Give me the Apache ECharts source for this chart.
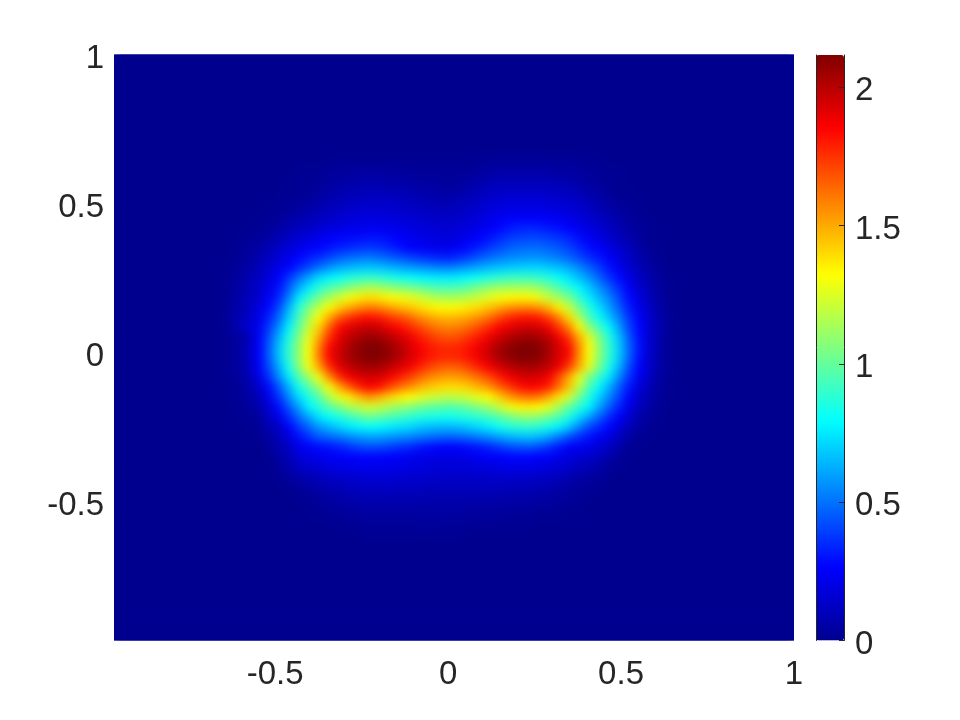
<!DOCTYPE html>
<html>
<head>
<meta charset="utf-8">
<style>html,body{margin:0;padding:0;background:#fff}#c{width:960px;height:720px}</style>
<script src="https://cdn.jsdelivr.net/npm/echarts@6/dist/echarts.min.js"></script>
</head>
<body>
<div id="c"></div>
<script>
const xTicks = [-0.5, 0, 0.5, 1];
const yTicks = [-0.5, 0, 0.5, 1];
const barTicks = [0, 0.5, 1, 1.5, 2];
const axisMin = -0.966;
const axisMax = 1;
const valueMax = 2.116;
const colCount = 68;
const rowCount = 59;
const firstCol = 11;
const firstRow = 10;
const jet = ['#00008f','#0000ff','#0080ff','#00ffff','#80ff80','#ffff00','#ff8000','#ff0000','#800000'];
// values, top row first; every cell outside this block is 0
const zRows = [
[0,0,0,0,0,0,0,0,0,0,0,.01,.01,.01,.01,.01,.01,.01,.01,.01,.01,.01,.01,.01,.01,.02,.02,.02,.02,.02,.02,.02,.02,.02,.02,.02,.01,.01,0,0,0,0,0,0,0],
[0,0,0,0,0,0,0,.01,.01,.01,.02,.03,.03,.03,.03,.03,.03,.03,.02,.02,.02,.02,.02,.02,.02,.03,.04,.05,.05,.05,.05,.05,.05,.04,.04,.03,.02,.02,.01,.01,0,0,0,0,0],
[0,0,0,0,0,0,0,.01,.01,.02,.03,.04,.05,.05,.06,.06,.05,.05,.04,.04,.03,.03,.02,.03,.04,.05,.07,.08,.08,.08,.08,.08,.08,.07,.06,.05,.03,.02,.01,.01,0,0,0,0,0],
[0,0,0,0,0,0,.01,.01,.02,.03,.05,.07,.08,.09,.09,.09,.08,.08,.07,.06,.06,.05,.04,.05,.07,.09,.11,.12,.12,.12,.12,.12,.12,.11,.1,.08,.06,.04,.02,.01,.01,0,0,0,0],
[0,0,0,0,0,.01,.01,.02,.03,.05,.07,.09,.1,.11,.12,.12,.12,.11,.1,.09,.08,.07,.07,.08,.1,.12,.14,.15,.16,.16,.16,.16,.15,.14,.13,.11,.09,.06,.03,.02,.01,.01,0,0,0],
[0,0,0,0,.01,.01,.02,.04,.06,.08,.1,.12,.14,.15,.15,.15,.15,.14,.13,.12,.11,.1,.1,.11,.13,.15,.18,.19,.2,.2,.2,.2,.19,.18,.17,.15,.12,.09,.06,.04,.02,.01,0,0,0],
[0,0,0,.01,.01,.03,.05,.07,.09,.11,.13,.15,.17,.18,.19,.19,.18,.17,.16,.15,.14,.13,.13,.14,.16,.18,.21,.23,.25,.25,.26,.25,.24,.23,.21,.18,.15,.12,.09,.06,.03,.02,.01,0,0],
[0,0,.01,.01,.03,.05,.08,.11,.13,.16,.18,.2,.21,.22,.23,.23,.22,.21,.2,.18,.17,.16,.16,.17,.19,.21,.24,.27,.31,.33,.34,.33,.31,.29,.26,.23,.19,.16,.12,.08,.05,.03,.01,0,0],
[0,.01,.02,.03,.05,.09,.12,.16,.19,.22,.25,.27,.28,.29,.3,.3,.28,.26,.23,.21,.2,.19,.18,.2,.23,.26,.3,.34,.38,.4,.41,.41,.39,.37,.34,.29,.24,.2,.15,.11,.07,.04,.01,0,0],
[0,.01,.03,.05,.09,.13,.17,.21,.24,.27,.3,.33,.35,.37,.38,.37,.34,.3,.26,.25,.23,.22,.22,.25,.29,.33,.38,.42,.46,.48,.49,.49,.47,.44,.4,.35,.29,.25,.2,.15,.1,.06,.02,.01,0],
[.01,.02,.04,.08,.12,.17,.22,.27,.32,.36,.41,.46,.49,.51,.52,.5,.47,.44,.41,.38,.36,.34,.33,.36,.4,.45,.49,.52,.55,.56,.57,.57,.55,.52,.48,.42,.36,.31,.25,.19,.13,.08,.04,.01,0],
[.01,.03,.06,.1,.15,.21,.27,.34,.42,.5,.57,.62,.65,.67,.68,.67,.65,.62,.6,.58,.56,.54,.54,.56,.59,.62,.65,.67,.69,.7,.71,.71,.69,.66,.62,.55,.47,.39,.3,.23,.16,.1,.05,.02,0],
[.02,.04,.08,.12,.18,.26,.37,.5,.61,.72,.77,.81,.86,.89,.9,.89,.86,.83,.81,.78,.77,.76,.76,.77,.8,.83,.86,.89,.91,.92,.92,.9,.86,.8,.74,.66,.58,.47,.37,.28,.2,.13,.07,.03,.01],
[.02,.05,.09,.14,.21,.3,.45,.62,.75,.87,.95,1.01,1.07,1.12,1.16,1.14,1.1,1.07,1.05,1.01,.98,.95,.95,.96,1.0,1.05,1.1,1.13,1.14,1.14,1.14,1.1,1.04,.96,.87,.78,.68,.57,.46,.35,.24,.16,.09,.04,.01],
[.02,.06,.1,.16,.24,.34,.53,.75,.9,1.03,1.14,1.22,1.3,1.36,1.39,1.37,1.33,1.3,1.28,1.24,1.19,1.15,1.14,1.15,1.18,1.22,1.26,1.3,1.33,1.34,1.33,1.28,1.2,1.12,1.04,.9,.76,.65,.54,.41,.28,.19,.11,.05,.01],
[.03,.07,.12,.19,.28,.42,.63,.87,1.05,1.19,1.31,1.42,1.5,1.56,1.6,1.58,1.53,1.48,1.45,1.4,1.36,1.33,1.33,1.34,1.37,1.4,1.45,1.5,1.55,1.57,1.58,1.55,1.47,1.35,1.2,1.03,.87,.73,.6,.46,.32,.22,.13,.06,.02],
[.03,.08,.14,.21,.33,.48,.7,.94,1.14,1.32,1.5,1.66,1.75,1.81,1.83,1.81,1.75,1.7,1.65,1.57,1.52,1.48,1.47,1.48,1.51,1.56,1.62,1.7,1.77,1.81,1.82,1.8,1.72,1.58,1.4,1.17,.95,.81,.68,.53,.37,.25,.15,.07,.02],
[.03,.09,.15,.23,.38,.56,.77,1.0,1.21,1.42,1.65,1.83,1.91,1.95,1.97,1.95,1.89,1.84,1.78,1.71,1.65,1.6,1.58,1.6,1.64,1.7,1.77,1.85,1.9,1.94,1.95,1.93,1.87,1.74,1.58,1.34,1.1,.94,.78,.6,.41,.27,.16,.08,.02],
[.02,.04,.1,.25,.43,.63,.85,1.06,1.28,1.5,1.75,1.89,1.98,2.03,2.06,2.05,2.0,1.95,1.89,1.81,1.75,1.7,1.68,1.7,1.75,1.81,1.88,1.95,2.0,2.04,2.06,2.04,1.98,1.87,1.74,1.5,1.27,1.06,.87,.67,.45,.29,.16,.07,.02],
[.02,.04,.12,.26,.45,.67,.89,1.1,1.31,1.58,1.83,1.94,2.02,2.08,2.11,2.11,2.07,2.01,1.94,1.87,1.81,1.78,1.77,1.78,1.82,1.88,1.95,2.03,2.08,2.11,2.116,2.1,2.03,1.93,1.83,1.57,1.32,1.1,.9,.69,.48,.3,.16,.07,.02],
[.02,.04,.12,.26,.45,.67,.89,1.1,1.31,1.59,1.84,1.95,2.03,2.08,2.116,2.11,2.07,2.01,1.94,1.87,1.81,1.78,1.77,1.78,1.82,1.88,1.95,2.03,2.08,2.11,2.11,2.09,2.02,1.92,1.83,1.56,1.31,1.09,.89,.69,.47,.29,.15,.07,.02],
[.02,.04,.11,.24,.42,.62,.84,1.07,1.3,1.5,1.75,1.9,1.97,2.02,2.04,2.03,1.98,1.93,1.87,1.79,1.72,1.67,1.65,1.66,1.72,1.79,1.86,1.93,1.98,2.02,2.03,2.02,1.97,1.88,1.72,1.5,1.27,1.05,.84,.64,.42,.26,.15,.06,.02],
[.02,.03,.09,.2,.36,.55,.75,.95,1.12,1.3,1.55,1.75,1.86,1.92,1.94,1.93,1.87,1.8,1.73,1.65,1.58,1.54,1.52,1.53,1.57,1.63,1.7,1.79,1.87,1.92,1.94,1.92,1.86,1.7,1.5,1.27,1.05,.9,.74,.55,.37,.23,.13,.05,.01],
[.01,.02,.06,.14,.28,.44,.63,.83,.97,1.12,1.3,1.49,1.65,1.78,1.85,1.82,1.72,1.63,1.56,1.49,1.44,1.41,1.39,1.4,1.43,1.48,1.54,1.64,1.73,1.81,1.85,1.84,1.78,1.62,1.45,1.18,.95,.78,.63,.46,.31,.18,.1,.04,.01],
[.01,.02,.05,.1,.22,.37,.55,.72,.85,.97,1.15,1.27,1.36,1.46,1.54,1.49,1.42,1.36,1.32,1.27,1.23,1.2,1.18,1.2,1.23,1.28,1.33,1.42,1.52,1.59,1.62,1.6,1.5,1.38,1.22,1.03,.85,.7,.55,.4,.26,.14,.08,.03,.01],
[0,.01,.03,.07,.17,.29,.44,.6,.77,.87,.97,1.05,1.14,1.19,1.22,1.2,1.15,1.11,1.08,1.03,1.0,.98,.97,.98,1.02,1.07,1.12,1.2,1.29,1.34,1.35,1.33,1.26,1.14,1.0,.88,.77,.61,.46,.33,.21,.11,.06,.02,0],
[0,.01,.02,.04,.12,.21,.35,.49,.61,.74,.8,.85,.91,.97,1.02,.99,.95,.92,.89,.86,.84,.83,.82,.84,.86,.89,.92,.97,1.03,1.08,1.1,1.08,1.02,.95,.85,.72,.6,.47,.35,.25,.16,.07,.03,.01,0],
[0,0,.01,.02,.08,.14,.26,.38,.48,.58,.64,.7,.75,.78,.8,.79,.76,.74,.72,.68,.66,.65,.65,.66,.69,.72,.76,.82,.86,.88,.89,.87,.83,.77,.68,.54,.42,.34,.27,.18,.1,.05,.02,0,0],
[0,0,0,.01,.05,.1,.18,.29,.37,.45,.48,.51,.55,.58,.6,.6,.58,.56,.55,.52,.5,.48,.47,.48,.5,.53,.56,.6,.64,.66,.67,.65,.6,.52,.43,.36,.3,.24,.19,.12,.05,.02,.01,0,0],
[0,0,0,0,.03,.07,.13,.22,.25,.28,.3,.33,.37,.41,.43,.42,.4,.37,.35,.31,.29,.27,.26,.27,.29,.31,.34,.38,.42,.44,.45,.42,.37,.31,.25,.23,.21,.17,.13,.07,.02,.01,0,0,0],
[0,0,0,0,.01,.05,.1,.17,.2,.22,.24,.25,.26,.27,.27,.27,.26,.25,.23,.22,.21,.2,.2,.2,.22,.23,.25,.26,.27,.27,.27,.26,.25,.22,.19,.17,.15,.11,.07,.03,.01,0,0,0,0],
[0,0,0,0,0,.03,.07,.12,.15,.17,.19,.2,.21,.22,.22,.22,.21,.21,.2,.19,.18,.17,.17,.17,.18,.19,.19,.2,.21,.21,.21,.2,.18,.16,.14,.11,.09,.06,.03,.01,0,0,0,0,0],
[0,0,0,0,0,.01,.04,.07,.09,.11,.13,.15,.16,.17,.17,.17,.17,.16,.16,.15,.15,.14,.14,.14,.14,.14,.14,.15,.15,.15,.15,.14,.13,.11,.09,.06,.04,.03,.01,0,0,0,0,0,0],
[0,0,0,0,0,0,.01,.03,.05,.07,.09,.1,.11,.12,.13,.13,.13,.12,.12,.12,.11,.11,.11,.11,.11,.11,.11,.11,.1,.1,.1,.09,.08,.06,.05,.03,.02,.01,0,0,0,0,0,0,0],
[0,0,0,0,0,0,0,.01,.02,.04,.05,.06,.08,.09,.09,.1,.09,.09,.09,.09,.08,.08,.08,.08,.08,.08,.08,.07,.07,.07,.06,.06,.05,.04,.03,.02,.01,0,0,0,0,0,0,0,0],
[0,0,0,0,0,0,0,0,.01,.02,.03,.04,.05,.06,.06,.06,.06,.06,.06,.06,.06,.06,.06,.06,.05,.05,.05,.05,.04,.04,.04,.03,.03,.02,.01,.01,0,0,0,0,0,0,0,0,0],
[0,0,0,0,0,0,0,0,0,.01,.01,.02,.03,.03,.04,.04,.04,.04,.04,.04,.04,.04,.04,.04,.03,.03,.03,.03,.02,.02,.02,.01,.01,.01,0,0,0,0,0,0,0,0,0,0,0],
[0,0,0,0,0,0,0,0,0,0,0,.01,.01,.02,.02,.02,.02,.02,.02,.03,.03,.03,.02,.02,.02,.01,.01,.01,.01,.01,.01,0,0,0,0,0,0,0,0,0,0,0,0,0,0],
[0,0,0,0,0,0,0,0,0,0,0,0,0,0,.01,.01,.01,.01,.01,.01,.01,.01,.01,.01,0,0,0,0,0,0,0,0,0,0,0,0,0,0,0,0,0,0,0,0,0]
];

const cells = [];
for (let r = 0; r < rowCount; r++) {
  for (let c = 0; c < colCount; c++) {
    const row = zRows[r - firstRow];
    const v = row && row[c - firstCol] !== undefined ? row[c - firstCol] : 0;
    cells.push([c, r, v]);
  }
}
const colNames = Array.from({length: colCount}, (_, i) => String(i));
const rowNames = Array.from({length: rowCount}, (_, i) => String(i));
const textColor = '#262626';
const fontFamily = '"Liberation Sans", Arial, sans-serif';
const fontSize = 33;

const chart = echarts.init(document.getElementById('c'), null, {renderer: 'canvas'});
chart.setOption({
  animation: false,
  grid: [
    {left: 114, top: 54.5, width: 680, height: 586, containLabel: false, show: true,
     backgroundColor: '#00008f', borderWidth: 0, zlevel: -1},
    {left: 816, top: 55, width: 28, height: 585.5, containLabel: false},
    // label carriers: the reference's numbers sit a few pixels below their tick positions
    {left: 114, top: 58.5, width: 680, height: 586, containLabel: false},
    {left: 816, top: 59, width: 28, height: 585.5, containLabel: false}
  ],
  xAxis: [
    {type: 'category', gridIndex: 0, data: colNames, show: false},
    {type: 'value', gridIndex: 0, position: 'bottom', min: axisMin, max: axisMax, zlevel: 1,
     splitLine: {show: false}, axisLine: {show: false, onZero: false}, axisTick: {show: false},
     axisLabel: {customValues: xTicks, color: textColor, fontFamily, fontSize, margin: 18}},
    {type: 'value', gridIndex: 1, min: 0, max: 1, show: false},
    {type: 'value', gridIndex: 2, min: 0, max: 1, show: false},
    {type: 'value', gridIndex: 3, min: 0, max: 1, show: false}
  ],
  yAxis: [
    {type: 'category', gridIndex: 0, data: rowNames, inverse: true, show: false},
    {type: 'value', gridIndex: 2, position: 'left', min: axisMin, max: axisMax, zlevel: 1,
     splitLine: {show: false}, axisLine: {show: false, onZero: false}, axisTick: {show: false},
     axisLabel: {customValues: yTicks, color: textColor, fontFamily, fontSize, margin: 10}},
    {type: 'value', gridIndex: 1, position: 'right', min: 0, max: valueMax, z: 6, zlevel: 1,
     splitLine: {show: false},
     axisLine: {show: true, onZero: false, lineStyle: {color: '#262626', width: 1}},
     axisTick: {show: true, inside: true, length: 5, customValues: barTicks, lineStyle: {color: '#262626', width: 1}},
     axisLabel: {show: false}},
    {type: 'value', gridIndex: 1, position: 'left', min: 0, max: valueMax, z: 6, zlevel: 1,
     splitLine: {show: false},
     axisLine: {show: true, onZero: false, lineStyle: {color: '#262626', width: 1}},
     axisTick: {show: false}, axisLabel: {show: false}},
    {type: 'value', gridIndex: 3, position: 'right', min: 0, max: valueMax, zlevel: 1,
     splitLine: {show: false}, axisLine: {show: false, onZero: false}, axisTick: {show: false},
     axisLabel: {customValues: barTicks, color: textColor, fontFamily, fontSize, margin: 11}}
  ],
  visualMap: {
    type: 'continuous',
    seriesIndex: 0,
    min: 0,
    max: valueMax,
    calculable: false,
    hoverLink: false,
    left: 816,
    top: 55,
    padding: 0,
    itemWidth: 28,
    itemHeight: 585.5,
    text: null,
    zlevel: 1,
    inRange: {color: jet}
  },
  series: [{
    type: 'heatmap',
    xAxisIndex: 0,
    yAxisIndex: 0,
    data: cells,
    silent: true,
    progressive: 0,
    zlevel: 0,
    emphasis: {disabled: true}
  }]
});

// The cells sit on their own canvas layer: soften them like the reference's
// continuous shading and keep the softening inside the plot rectangle.
function softenHeatLayer() {
  const layers = chart.getDom().querySelectorAll('canvas');
  if (layers.length >= 3) {
    layers[1].style.filter = 'blur(4px)';
    layers[1].style.clipPath = 'inset(54.5px 166px 79.5px 114px)';
  }
}
softenHeatLayer();
chart.on('finished', softenHeatLayer);
</script>
</body>
</html>
